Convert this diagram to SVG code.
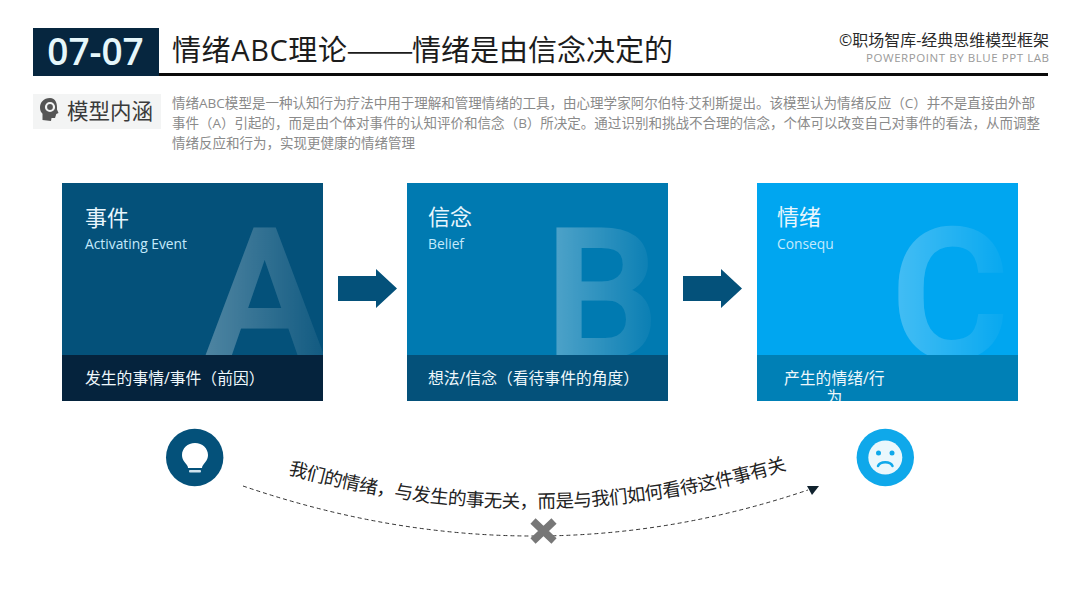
<svg xmlns="http://www.w3.org/2000/svg" width="1080" height="607" viewBox="0 0 1080 607">
<style>
.cn{font-family:"Open Sans","Noto Sans CJK SC","Noto Sans",sans-serif}
.ct{font-size:22px;fill:#e8f6fd}
.sub{font-size:13.800px;fill:#c4eafc}
.band{font-size:15.800px;fill:#eef7fb}
.big{font-family:Roboto,"Open Sans",sans-serif;font-size:180px;font-weight:500;stroke-width:3px;fill:#fff;stroke:#fff}
.body{font-size:13.500px;fill:#8a8a8a}
.ttl{font-size:29px;fill:#1c1c1c}
</style>
<defs>
<linearGradient id="gA" gradientUnits="userSpaceOnUse" x1="205" y1="0" x2="323" y2="0"><stop offset="0" stop-color="#fff" stop-opacity=".3"/><stop offset="1" stop-color="#fff" stop-opacity=".06"/></linearGradient>
<linearGradient id="gB" gradientUnits="userSpaceOnUse" x1="556" y1="0" x2="656" y2="0"><stop offset="0" stop-color="#fff" stop-opacity=".3"/><stop offset="1" stop-color="#fff" stop-opacity=".03"/></linearGradient>
<linearGradient id="gC" gradientUnits="userSpaceOnUse" x1="898" y1="0" x2="1005" y2="0"><stop offset="0" stop-color="#fff" stop-opacity=".26"/><stop offset="1" stop-color="#fff" stop-opacity=".03"/></linearGradient>
<mask id="mA" maskUnits="userSpaceOnUse" x="62" y="183" width="261" height="172"><rect x="62" y="183" width="261" height="172" fill="url(#gA)"/></mask>
<mask id="mB" maskUnits="userSpaceOnUse" x="407" y="183" width="261" height="172"><rect x="407" y="183" width="261" height="172" fill="url(#gB)"/></mask>
<mask id="mC" maskUnits="userSpaceOnUse" x="757" y="183" width="261" height="172"><rect x="757" y="183" width="261" height="172" fill="url(#gC)"/></mask>
<clipPath id="cCb"><rect x="757" y="355" width="261" height="46"/></clipPath>
<marker id="tri" markerUnits="userSpaceOnUse" markerWidth="14" markerHeight="12" refX="1" refY="4" orient="0"><polygon points="0,0 12,0 5,9" fill="#10222e"/></marker>
<path id="arc" d="M288 474Q537 544 786 470"/>
<polygon id="arr" points="0,-12.500 38,-12.500 38,-19.500 59,0 38,19.500 38,12.500 0,12.500" fill="#04517a"/>
</defs>
<rect width="1080" height="607" fill="#fff"/>
<g id="header">
<rect x="33" y="73" width="1015" height="3" fill="#0a0a0a"/>
<rect x="33" y="28" width="126" height="48" fill="#06263f"/>
<text x="95.500" y="65" text-anchor="middle" font-family="Open Sans,Liberation Sans,sans-serif" font-weight="600" font-size="37" fill="#e6f7fb">07-07</text>
<text class="cn ttl" x="172" y="61" letter-spacing=".6">情绪ABC理论</text>
<text class="ttl" font-family="'Noto Sans CJK SC',sans-serif" transform="translate(346 61) scale(1.4 1)">——</text>
<text class="cn ttl" x="412" y="61">情绪是由信念决定的</text>
<text class="cn" x="839" y="46" font-size="15.500" fill="#2a2a2a" textLength="210" lengthAdjust="spacingAndGlyphs">©职场智库-经典思维模型框架</text>
<text class="cn" x="866" y="62" font-size="11.500" fill="#9a9a9a" textLength="183">POWERPOINT BY BLUE PPT LAB</text>
</g>
<g id="model-label">
<rect x="33" y="94" width="128" height="35" fill="#f3f4f4"/>
<path d="M50 98c-6.500 0-10 4.500-10 9.500 0 3 1 4.700 2.500 6.300V120l8.500 1 .5-3h3.500l1.300-4 2.200-1-1.500-3.500c.5-6-1.500-11.500-7-11.500z" fill="#555"/>
<circle cx="50" cy="107" r="4" fill="none" stroke="#f3f4f4" stroke-width="2.200"/>
<text class="cn" x="67" y="119" font-size="21.500" fill="#3a3a3a" textLength="86">模型内涵</text>
</g>
<g id="intro">
<text class="cn body" x="172" y="108" textLength="863" lengthAdjust="spacingAndGlyphs">情绪ABC模型是一种认知行为疗法中用于理解和管理情绪的工具，由心理学家阿尔伯特·艾利斯提出。该模型认为情绪反应（C）并不是直接由外部</text>
<text class="cn body" x="172" y="128" textLength="868" lengthAdjust="spacingAndGlyphs">事件（A）引起的，而是由个体对事件的认知评价和信念（B）所决定。通过识别和挑战不合理的信念，个体可以改变自己对事件的看法，从而调整</text>
<text class="cn body" x="172" y="148" textLength="243" lengthAdjust="spacingAndGlyphs">情绪反应和行为，实现更健康的情绪管理</text>
</g>
<g id="node-a">
<rect x="62" y="183" width="261" height="218" fill="#04517a"/>
<g mask="url(#mA)"><text class="big" x="205" y="357">A</text></g>
<rect x="62" y="355" width="261" height="46" fill="#05233d"/>
<text class="cn ct" x="85" y="226">事件</text>
<text class="cn sub" x="85" y="249">Activating Event</text>
<text class="cn band" x="85" y="384">发生的事情/事件（前因）</text>
</g>
<g id="node-b">
<rect x="407" y="183" width="261" height="218" fill="#007ab1"/>
<g mask="url(#mB)"><text class="big" x="545" y="357">B</text></g>
<rect x="407" y="355" width="261" height="46" fill="#04517a"/>
<text class="cn ct" x="428" y="225">信念</text>
<text class="cn sub" x="428" y="249">Belief</text>
<text class="cn band" x="428" y="384">想法/信念（看待事件的角度）</text>
</g>
<g id="node-c">
<rect x="757" y="183" width="261" height="218" fill="#00a6f0"/>
<g mask="url(#mC)"><text class="big" x="891" y="357">C</text></g>
<rect x="757" y="355" width="261" height="46" fill="#0080b6"/>
<text class="cn ct" x="777" y="225">情绪</text>
<text class="cn sub" x="777" y="249">Consequ</text>
<g clip-path="url(#cCb)">
<text class="cn band" x="784" y="384">产生的情绪/行</text>
<text class="cn band" x="834.500" y="403" text-anchor="middle">为</text>
</g>
</g>
<g id="connectors">
<use href="#arr" x="338" y="288.500"/>
<use href="#arr" x="683" y="288.500"/>
<path d="M243 486Q530 584 808 490" fill="none" stroke="#333" stroke-width="1" stroke-dasharray="4 3" marker-end="url(#tri)"/>
</g>
<g id="caption">
<text class="cn" font-size="18.500" fill="#222"><textPath href="#arc" textLength="506">我们的情绪，与发生的事无关，而是与我们如何看待这件事有关</textPath></text>
</g>
<g id="cross">
<path d="M533 521L554 541M554 521L533 541" stroke="#777" stroke-width="7.500" fill="none"/>
</g>
<g id="bulb-icon">
<circle cx="194.700" cy="457.500" r="28.700" fill="#04517a"/>
<path d="M195 443c-7.500 0-13 5.500-13 12 0 4.500 2.500 7 4.500 9.500 1 1.200 1.500 2.500 1.500 3.500h14c0-1 .5-2.300 1.500-3.500 2-2.500 4.500-5 4.500-9.500 0-6.500-5.500-12-13-12z" fill="#fff"/>
<rect x="189" y="470" width="12" height="2.500" rx="1" fill="#cfe3ee"/>
</g>
<g id="sad-icon">
<circle cx="885.300" cy="457.500" r="28.700" fill="#0fa8ea"/>
<circle cx="885.300" cy="457.500" r="17" fill="#eaf7fc"/>
<circle cx="878.500" cy="453" r="2.500" fill="#0fa8ea"/>
<circle cx="892" cy="453" r="2.500" fill="#0fa8ea"/>
<path d="M878 466c2-5 12.500-5 14.500 0" fill="none" stroke="#0fa8ea" stroke-width="2.500" stroke-linecap="round"/>
</g>
</svg>
